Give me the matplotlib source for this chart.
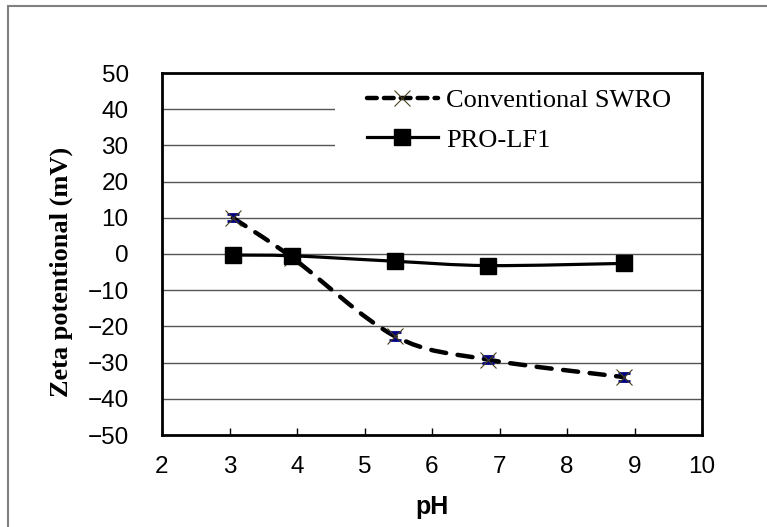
import numpy as np
import matplotlib.pyplot as plt
from matplotlib.path import Path
from matplotlib.patches import PathPatch, Rectangle
from matplotlib.lines import Line2D

# data
ph = [3.05, 3.93, 5.45, 6.83, 8.84]
swro = [10.0, -1.0, -22.7, -29.2, -34.0]
swro_err = [1.0, 1.0, 1.1, 1.0, 1.0]
pro_lf1 = [-0.3, -0.5, -2.0, -3.2, -2.6]
series_names = ["Conventional SWRO", "PRO-LF1"]
x_ticks = [2, 3, 4, 5, 6, 7, 8, 9, 10]
y_ticks = [50, 40, 30, 20, 10, 0, -10, -20, -30, -40, -50]


def smooth_path(xs, ys):
    # Excel-style smoothed line: cubic bezier through each point
    pts = np.column_stack([xs, ys]).astype(float)
    n = len(pts)
    verts = [pts[0]]
    codes = [Path.MOVETO]
    for i in range(n - 1):
        p0 = pts[max(i - 1, 0)]
        p1 = pts[i]
        p2 = pts[i + 1]
        p3 = pts[min(i + 2, n - 1)]
        c1 = p1 + (p2 - p0) / 6.0
        c2 = p2 - (p3 - p1) / 6.0
        verts += [c1, c2, p2]
        codes += [Path.CURVE4] * 3
    return Path(verts, codes)


fig = plt.figure(figsize=(7.67, 5.27), dpi=100)

# thin gray frame round the whole chart
fig.patches.append(Rectangle((8 / 767, -0.2), 2.0, 1.2 - 6 / 527,
                             transform=fig.transFigure, fill=False,
                             edgecolor="#808080", linewidth=1.5))

ax = fig.add_axes([162 / 767, 1 - 435 / 527, 540 / 767, 362 / 527])
ax.set_xlim(2, 10)
ax.set_ylim(-50, 50)

for v in y_ticks[1:-1]:
    ax.axhline(v, color="#555555", linewidth=1.0, zorder=1)

# white box behind the legend hides the grid
ax.add_patch(Rectangle((0.32, 0.732), 0.68, 0.254, transform=ax.transAxes,
                       facecolor="white", edgecolor="none", zorder=2))

ax.add_patch(PathPatch(smooth_path(ph, swro), fill=False, edgecolor="black",
                       linewidth=3.2, linestyle=(0, (3.4, 2.6)),
                       capstyle="round", zorder=3))
ax.add_patch(PathPatch(smooth_path(ph, pro_lf1), fill=False, edgecolor="black",
                       linewidth=2.3, zorder=3))

ax.errorbar(ph, swro, yerr=swro_err, fmt="none", ecolor="#000080",
            elinewidth=2, capsize=4.5, capthick=2, zorder=4)
ax.plot(ph, swro, linestyle="none", marker="x", markersize=11,
        markeredgewidth=0.8, color="#4a4020", zorder=5)
ax.plot(ph, pro_lf1, linestyle="none", marker="s", markersize=12,
        color="black", zorder=5)

for side in ["left", "right", "top", "bottom"]:
    ax.spines[side].set_linewidth(2.0)
    ax.spines[side].set_zorder(6)

ax.set_xticks(x_ticks)
ax.set_yticks(y_ticks)
ax.set_yticklabels([str(v).replace("-", "\u2212") for v in y_ticks])
ax.tick_params(axis="x", direction="in", length=5, width=1, pad=15,
               labelsize=17.5)
ax.tick_params(axis="y", direction="in", length=0, pad=24, labelsize=17.5)
for lab in ax.get_xticklabels() + ax.get_yticklabels():
    lab.set_family("Liberation Sans")

ax.set_xlabel("pH", fontsize=18, fontweight="bold", family="Liberation Sans")
ax.xaxis.set_label_coords(0.5, -0.165)
ax.set_ylabel("Zeta potentional (mV)", fontsize=19, fontweight="bold",
              family="Liberation Serif")
ax.yaxis.set_label_coords(-0.165, 0.45)

handles = [
    Line2D([], [], color="black", linewidth=3.2, linestyle=(0, (2.2, 1.6)),
           dash_capstyle="round", marker="x", markersize=11,
           markeredgewidth=0.8, markeredgecolor="#4a4020"),
    Line2D([], [], color="black", linewidth=2.3, marker="s", markersize=12),
]
leg = ax.legend(handles, series_names, loc="upper left",
                bbox_to_anchor=(0.335, 1.022), frameon=False,
                handlelength=2.7, handletextpad=0.3, labelspacing=0.6,
                prop={"family": "Liberation Serif", "size": 19})
leg.set_zorder(7)

fig.savefig("out.png", dpi=100)
